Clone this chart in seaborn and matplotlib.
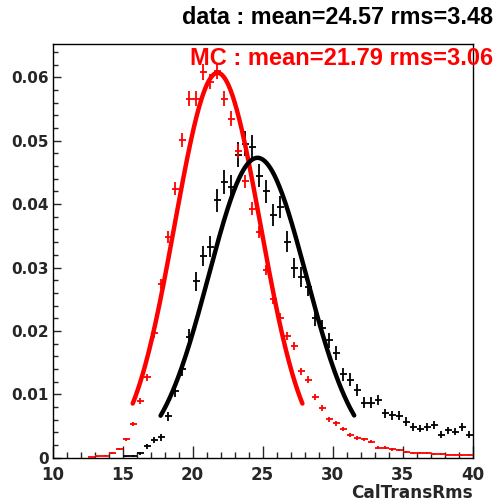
import numpy as np
import pandas as pd
import matplotlib
matplotlib.use("Agg")
import matplotlib.pyplot as plt
import seaborn as sns
from matplotlib.ticker import MultipleLocator, FuncFormatter

# ---------------- data ----------------
mc_x = [12.75, 13.25, 13.75, 14.25, 14.75, 15.25, 15.75, 16.25, 16.75, 17.25,
        17.75, 18.25, 18.75, 19.25, 19.75, 20.25, 20.75, 21.25, 21.75, 22.25,
        22.75, 23.25, 23.75, 24.25, 24.75, 25.25, 25.75, 26.25, 26.75, 27.25,
        27.75, 28.25, 28.75, 29.25, 29.75, 30.25, 30.75, 31.25, 31.75, 32.25,
        32.75, 33.25, 33.75, 34.25, 34.75, 35.25, 35.75, 36.25, 36.75, 37.25,
        37.75, 38.25, 38.75, 39.25, 39.75]
mc_y = [0.0001, 0.0002, 0.0003, 0.0007, 0.0014, 0.0029, 0.0053, 0.0089, 0.0127, 0.0196,
        0.0274, 0.0348, 0.0424, 0.0501, 0.0566, 0.0566, 0.0608, 0.0593, 0.0610, 0.0566,
        0.0535, 0.0484, 0.0436, 0.0393, 0.0356, 0.0296, 0.0251, 0.0221, 0.0192, 0.0176,
        0.0136, 0.0123, 0.0096, 0.0078, 0.0061, 0.0054, 0.0045, 0.0036, 0.0031, 0.0029,
        0.0025, 0.0016, 0.0016, 0.0013, 0.0012, 0.0009, 0.0008, 0.0008, 0.0008, 0.0006,
        0.0006, 0.0005, 0.0005, 0.0004, 0.0004]

data_x = [15.25, 15.75, 16.25, 16.75, 17.25, 17.75, 18.25, 18.75, 19.25, 19.75,
          20.25, 20.75, 21.25, 21.75, 22.25, 22.75, 23.25, 23.75, 24.25, 24.75,
          25.25, 25.75, 26.25, 26.75, 27.25, 27.75, 28.25, 28.75, 29.25, 29.75,
          30.25, 30.75, 31.25, 31.75, 32.25, 32.75, 33.25, 33.75, 34.25, 34.75,
          35.25, 35.75, 36.25, 36.75, 37.25, 37.75, 38.25, 38.75, 39.25, 39.75]
data_y = [0.0002, 0.0003, 0.0007, 0.0018, 0.0028, 0.0032, 0.0065, 0.0105, 0.0140, 0.0190,
          0.0278, 0.0318, 0.0333, 0.0406, 0.0435, 0.0427, 0.0478, 0.0495, 0.0490, 0.0445,
          0.0420, 0.0383, 0.0395, 0.0341, 0.0299, 0.0285, 0.0269, 0.0221, 0.0204, 0.0185,
          0.0165, 0.0132, 0.0123, 0.0107, 0.0087, 0.0087, 0.0091, 0.0070, 0.0067, 0.0066,
          0.0057, 0.0049, 0.0046, 0.0048, 0.0052, 0.0036, 0.0043, 0.0041, 0.0049, 0.0036]

bin_half_width = 0.25
mc_entries = 40000      # effective entries -> Poisson error size
data_entries = 12600

# Gaussian fit results (amplitude, mean, sigma, fit range)
mc_fit = dict(amp=0.0607, mean=21.79, sigma=3.06, lo=15.73, hi=27.85)
data_fit = dict(amp=0.0473, mean=24.64, sigma=3.49, lo=17.72, hi=31.55)

title_data = "data : mean=24.57 rms=3.48"
title_mc = "MC : mean=21.79 rms=3.06"
x_label = "CalTransRms"

# ---------------- figure ----------------
sns.set_style("ticks")
plt.rcParams["font.family"] = ["Liberation Sans", "DejaVu Sans"]
plt.rcParams["font.weight"] = "bold"

fig = plt.figure(figsize=(5.03, 5.04), dpi=100)
W, H = 503.0, 504.0
L, R, T, B = 52.5, 472.5, 44.0, 457.7
ax = fig.add_axes([L / W, 1 - B / H, (R - L) / W, (B - T) / H])

mc = pd.DataFrame({"x": mc_x, "y": mc_y})
mc["err"] = np.sqrt(mc["y"] / mc_entries)
dt = pd.DataFrame({"x": data_x, "y": data_y})
dt["err"] = np.sqrt(dt["y"] / data_entries)

ax.errorbar(dt["x"], dt["y"], xerr=bin_half_width, yerr=dt["err"], fmt="none",
            ecolor="black", elinewidth=1.3, capsize=0, zorder=3)
ax.errorbar(mc["x"], mc["y"], xerr=bin_half_width, yerr=mc["err"], fmt="none",
            ecolor="red", elinewidth=1.3, capsize=0, zorder=3)


def gauss_curve(p):
    xs = np.linspace(p["lo"], p["hi"], 200)
    return pd.DataFrame({"x": xs, "y": p["amp"] * np.exp(-0.5 * ((xs - p["mean"]) / p["sigma"]) ** 2)})


sns.lineplot(data=gauss_curve(mc_fit), x="x", y="y", color="red", lw=3.2, ax=ax, zorder=4)
sns.lineplot(data=gauss_curve(data_fit), x="x", y="y", color="black", lw=3.2, ax=ax, zorder=4)

ax.set_xlim(10, 40)
ax.set_ylim(0, (B - T) / 6340.0)
ax.xaxis.set_major_locator(MultipleLocator(5))
ax.xaxis.set_minor_locator(MultipleLocator(1))
ax.yaxis.set_major_locator(MultipleLocator(0.01))
ax.yaxis.set_minor_locator(MultipleLocator(0.002))
ax.yaxis.set_major_formatter(FuncFormatter(lambda v, p: "0" if abs(v) < 1e-9 else f"{v:.2f}"))
ax.xaxis.set_major_formatter(FuncFormatter(lambda v, p: f"{v:.0f}"))

ax.tick_params(axis="x", which="major", direction="in", length=9, width=1, pad=6,
               labelsize=12, top=False)
ax.tick_params(axis="x", which="minor", direction="in", length=4.5, width=1, top=False)
ax.tick_params(axis="y", which="major", direction="in", length=6, width=1, pad=2.5,
               labelsize=11, right=False)
ax.tick_params(axis="y", which="minor", direction="in", length=3.5, width=1, right=False)
for lab in ax.get_xticklabels() + ax.get_yticklabels():
    lab.set_fontweight("bold")
    lab.set_family("DejaVu Sans")
for s in ax.spines.values():
    s.set_linewidth(1.0)
    s.set_color("black")
    s.set_visible(True)

ax.set_xlabel("")
ax.set_ylabel("")
fig.text(R / W, 1 - 493 / H, x_label, ha="right", va="center", fontsize=12.2,
         fontweight="bold", family="DejaVu Sans")
fig.text(493 / W, 1 - 17.7 / H, title_data, ha="right", va="center", fontsize=16.8,
         fontweight="bold", color="black")
fig.text(493 / W, 1 - 58.5 / H, title_mc, ha="right", va="center", fontsize=17,
         fontweight="bold", color="red", zorder=10)

fig.savefig("out.png", dpi=100)
